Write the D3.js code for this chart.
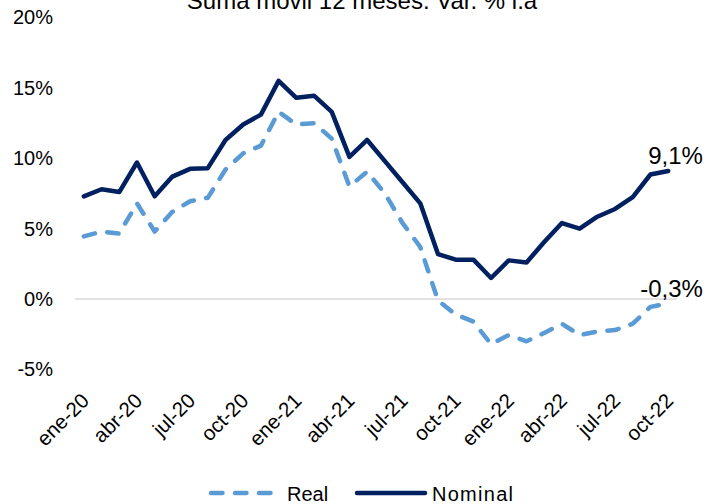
<!DOCTYPE html>
<html><head><meta charset="utf-8">
<script src="https://cdn.jsdelivr.net/npm/d3@7"></script>
<style>
html,body{margin:0;padding:0;background:#fff;}
svg{display:block;font-family:"Liberation Sans",Arial,sans-serif;}
</style></head>
<body><svg id="c" width="715" height="504"></svg>
<script>
const months = ["ene-20","feb-20","mar-20","abr-20","may-20","jun-20","jul-20","ago-20","sep-20","oct-20","nov-20","dic-20",
"ene-21","feb-21","mar-21","abr-21","may-21","jun-21","jul-21","ago-21","sep-21","oct-21","nov-21","dic-21",
"ene-22","feb-22","mar-22","abr-22","may-22","jun-22","jul-22","ago-22","sep-22","oct-22"];
const tickMonths = ["ene-20","abr-20","jul-20","oct-20","ene-21","abr-21","jul-21","oct-21","ene-22","abr-22","jul-22","oct-22"];
const nominal = [7.3,7.8,7.6,9.7,7.3,8.7,9.25,9.3,11.3,12.4,13.1,15.5,14.3,14.45,13.3,10.1,11.3,9.8,8.3,6.8,3.2,2.8,2.8,1.5,2.75,2.6,4.05,5.4,5.0,5.85,6.4,7.25,8.85,9.1];
const real = [4.45,4.8,4.65,6.8,4.8,6.2,6.95,7.2,9.2,10.35,10.9,13.3,12.4,12.5,11.4,8.0,9.05,7.5,5.4,3.7,-0.1,-1.1,-1.6,-3.2,-2.55,-3.0,-2.4,-1.75,-2.55,-2.3,-2.2,-1.75,-0.55,-0.3];
const yTicks = [-5,0,5,10,15,20];
const title = "Suma móvil 12 meses. Var. % i.a";
const seriesNames = ["Real","Nominal"];
const endLabels = ["9,1%","-0,3%"];

const svg = d3.select("#c");
const x = d3.scalePoint().domain(months).range([75,677]).padding(0.5);
const y = d3.scaleLinear().domain([-5,20]).range([369.5,17.5]);
const cReal = "#5B9BD5", cNom = "#002060";

// title (cut at the top edge, as in the reference)
svg.append("text").attr("x",362).attr("y",9).attr("text-anchor","middle")
  .attr("font-size",24).attr("fill","#000").text(title);

// zero line
svg.append("line").attr("x1",75).attr("x2",677).attr("y1",y(0)).attr("y2",y(0))
  .attr("stroke","#D9D9D9").attr("stroke-width",1.5);

// y axis labels
const yAxis = d3.axisLeft(y).tickValues(yTicks).tickSize(0).tickPadding(0).tickFormat(d=>d+"%");
const gy = svg.append("g").attr("transform","translate(53,0)").call(yAxis);
gy.select(".domain").remove();
gy.selectAll("text").attr("font-size",20).attr("fill","#000").attr("font-family","Liberation Sans, Arial, sans-serif");

// x axis labels
const xAxis = d3.axisBottom(x).tickValues(tickMonths).tickSize(0).tickPadding(0);
const gx = svg.append("g").call(xAxis);
gx.select(".domain").remove();
gx.selectAll(".tick text").attr("font-size",20.5).attr("fill","#000")
  .attr("font-family","Liberation Sans, Arial, sans-serif")
  .attr("text-anchor","end").attr("dy",null).attr("y",null)
  .attr("transform","translate(6,402) rotate(-45)");

const line = d3.line().x((d,i)=>x(months[i])).y(d=>y(d));

svg.append("path").datum(real).attr("d",line).attr("fill","none")
  .attr("stroke",cReal).attr("stroke-width",4.5).attr("stroke-linecap","round").attr("stroke-linejoin","round")
  .attr("stroke-dasharray","11.5,12.5");
svg.append("path").datum(nominal).attr("d",line).attr("fill","none")
  .attr("stroke",cNom).attr("stroke-width",4.5).attr("stroke-linecap","round").attr("stroke-linejoin","round");

// end labels
const last = months[months.length-1];
svg.append("text").attr("x",x(last)-20).attr("y",y(nominal[nominal.length-1])-7)
  .attr("font-size",24).attr("fill","#000").text(endLabels[0]);
svg.append("text").attr("x",x(last)-28).attr("y",y(real[real.length-1])-6)
  .attr("font-size",24).attr("fill","#000").text(endLabels[1]);

// legend
const lg = svg.append("g");
lg.append("line").attr("x1",211).attr("x2",273).attr("y1",493).attr("y2",493)
  .attr("stroke",cReal).attr("stroke-width",4.5).attr("stroke-linecap","round").attr("stroke-dasharray","11.5,12.5");
lg.append("text").attr("x",287).attr("y",501).attr("font-size",20).attr("fill","#000").text(seriesNames[0]);
lg.append("line").attr("x1",357).attr("x2",425).attr("y1",493).attr("y2",493)
  .attr("stroke",cNom).attr("stroke-width",4.5).attr("stroke-linecap","round");
lg.append("text").attr("x",432).attr("y",501).attr("font-size",20).attr("fill","#000")
  .attr("textLength",81).attr("lengthAdjust","spacing").text(seriesNames[1]);
</script></body></html>
